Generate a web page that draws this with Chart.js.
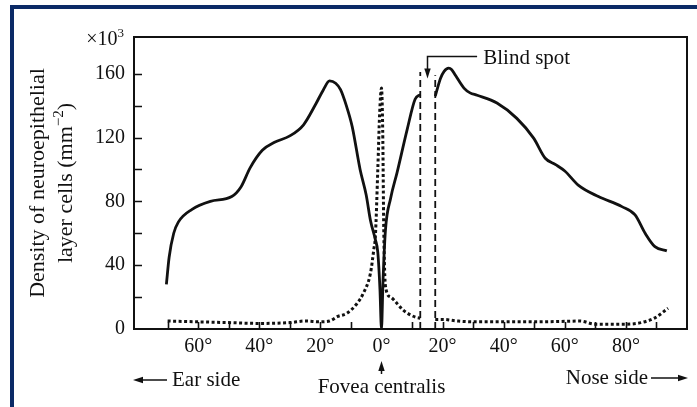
<!DOCTYPE html>
<html>
<head>
<meta charset="utf-8">
<script src="https://cdn.jsdelivr.net/npm/chart.js@4.4.0/dist/chart.umd.min.js"></script>
<style>
  html, body { margin: 0; padding: 0; background: #fff; }
  #wrap { position: relative; width: 697px; height: 407px; overflow: hidden; }
  #wrap canvas { position: absolute; left: 0; top: 0; }
  #edge { position: absolute; left: 10px; top: 5px; right: 0; bottom: 0;
          border-top: 4px solid #0b2a66; border-left: 4px solid #0b2a66; pointer-events: none; }
</style>
</head>
<body>
<div id="wrap">
  <canvas id="retina" width="697" height="407"></canvas>
  <div id="edge"></div>
</div>
<script>
// rods (solid) - null marks the blind spot gap
const rodAngles  = [-70.4, -69.5, -68, -66.5, -62, -56, -49, -46, -43, -39, -35, -30, -25.5, -21.5, -19, -17, -15, -13.4, -11.5, -9.6, -7, -5, -3.6, -2, -1.2, -0.5, 0, 0.5, 1.3, 3, 5.1, 8.4, 11, 12.7,
                    15,
                    17.6, 18.5, 19.3, 20.5, 22, 23, 24.2, 27, 29, 31.3, 37.8, 44.3, 49.8, 53.6, 57, 60, 64.5, 71, 78.7, 83, 86.3, 89.5, 93.4];
const rodDensity = [28, 45, 60, 67, 75, 80, 83, 89, 101, 112, 117, 121, 128, 141, 150, 155.5, 154, 150, 140, 127, 100, 84, 68, 56, 48, 25, 0, 30, 62, 82, 98, 125, 144, 147,
                    null,
                    146, 152, 157, 161.5, 163.5, 162.5, 159, 151, 148, 146.5, 141.6, 132, 119.6, 107, 103, 99, 90, 83, 76.7, 71.5, 60, 51.6, 49];

// cones (dotted)
const coneAngles  = [-70, -60, -50, -40, -30, -25, -20, -17, -14.5, -11.2, -8, -5.9, -3.6, -2.5, -2, -1.2, -0.6, 0, 0.4, 0.75, 1.3, 3, 5.1, 7, 9.5, 11.5, 12.7,
                     15,
                     17.6, 20, 25, 30, 40, 50, 60, 65, 70, 80, 85, 89.5, 93.8];
const coneDensity = [5, 4.5, 4, 3.5, 4, 5, 4.5, 5, 7.7, 10, 16, 22.5, 35, 50, 58, 100, 135, 151, 125, 62, 27, 20, 16, 12, 8.8, 7.2, 6.8,
                     null,
                     6, 6, 5, 4.5, 4.5, 4.5, 4.8, 5, 3, 3, 4, 7, 13];

// blind spot boundaries (dashed)
const blindEdgeAngles = [12.7, 17.6];
const blindEdgeTops   = [161, 159];

const xTickValues = [-60, -40, -20, 0, 20, 40, 60, 80];
const yTickValues = [0, 40, 80, 120, 160];
const xTickMarks  = [-70, -60, -50, -40, -30, -20, -10, 0, 10, 20, 30, 40, 50, 60, 70, 80, 90];
const yTickMarks  = [20, 40, 60, 80, 100, 120, 140, 160];

const ink = '#111';
const serif = '"Liberation Serif", "Times New Roman", serif';

const toPoints = (xs, ys) => xs.map((x, i) => ({ x: x, y: ys[i] }));

const blindPoints = [];
blindEdgeAngles.forEach((a, i) => {
  if (i > 0) blindPoints.push({ x: (blindEdgeAngles[i - 1] + a) / 2, y: null });
  blindPoints.push({ x: a, y: 0 }, { x: a, y: blindEdgeTops[i] });
});

function arrowHead(ctx, x, y, dir) {
  // dir: 'left' | 'right' | 'up' | 'down'
  const L = 10, W = 3.2;
  ctx.beginPath();
  if (dir === 'left')  { ctx.moveTo(x, y); ctx.lineTo(x + L, y - W); ctx.lineTo(x + L, y + W); }
  if (dir === 'right') { ctx.moveTo(x, y); ctx.lineTo(x - L, y - W); ctx.lineTo(x - L, y + W); }
  if (dir === 'up')    { ctx.moveTo(x, y); ctx.lineTo(x - W, y + L); ctx.lineTo(x + W, y + L); }
  if (dir === 'down')  { ctx.moveTo(x, y); ctx.lineTo(x - W, y - L); ctx.lineTo(x + W, y - L); }
  ctx.closePath();
  ctx.fill();
}

const decor = {
  id: 'decor',
  beforeDatasetsDraw(chart) {
    const { ctx, chartArea: a, scales: { x, y } } = chart;
    ctx.save();
    ctx.strokeStyle = ink;
    ctx.lineWidth = 2;
    ctx.strokeRect(a.left, a.top, a.right - a.left, a.bottom - a.top);
    // tick marks point into the plot
    ctx.lineWidth = 1.6;
    ctx.beginPath();
    yTickMarks.forEach(v => {
      const py = Math.round(y.getPixelForValue(v)) + 0.5;
      ctx.moveTo(a.left, py); ctx.lineTo(a.left + 8, py);
    });
    xTickMarks.forEach(v => {
      const px = Math.round(x.getPixelForValue(v)) + 0.5;
      ctx.moveTo(px, a.bottom); ctx.lineTo(px, a.bottom - 7);
    });
    ctx.stroke();
    ctx.restore();
  },
  afterDraw(chart) {
    const { ctx, chartArea: a, scales: { x, y } } = chart;
    ctx.save();
    ctx.fillStyle = ink;
    ctx.strokeStyle = ink;

    // ×10³ multiplier
    ctx.textAlign = 'right';
    ctx.textBaseline = 'alphabetic';
    ctx.font = `13px ${serif}`;
    const w3 = ctx.measureText('3').width;
    ctx.fillText('3', a.left - 10, 37);
    ctx.font = `20px ${serif}`;
    ctx.fillText('×10', a.left - 10 - w3, 45);

    // y axis title, two rotated lines
    ctx.save();
    ctx.translate(38, (a.top + a.bottom) / 2);
    ctx.rotate(-Math.PI / 2);
    ctx.font = `22px ${serif}`;
    ctx.textAlign = 'center';
    ctx.textBaseline = 'middle';
    ctx.fillText('Density of neuroepithelial', 0, 0);
    ctx.textAlign = 'left';
    const p1 = 'layer cells (mm', p2 = '\u22122', p3 = ')';
    const w1 = ctx.measureText(p1).width, w3b = ctx.measureText(p3).width;
    ctx.font = `15px ${serif}`;
    const w2 = ctx.measureText(p2).width;
    const cx = -(w1 + w2 + w3b) / 2;
    ctx.font = `22px ${serif}`;
    ctx.fillText(p1, cx, 28);
    ctx.font = `15px ${serif}`;
    ctx.fillText(p2, cx + w1, 21);
    ctx.font = `22px ${serif}`;
    ctx.fillText(p3, cx + w1 + w2, 28);
    ctx.restore();

    // blind spot pointer
    ctx.lineWidth = 1.5;
    const bx = Math.round(x.getPixelForValue(15)) + 0.5;
    const bTop = Math.round(y.getPixelForValue(171)) + 0.5;
    const bTip = y.getPixelForValue(157);
    const bEnd = x.getPixelForValue(31.3);
    ctx.beginPath();
    ctx.moveTo(bEnd, bTop); ctx.lineTo(bx, bTop); ctx.lineTo(bx, bTip - 6);
    ctx.stroke();
    arrowHead(ctx, bx, bTip, 'down');
    ctx.font = `21px ${serif}`;
    ctx.textAlign = 'left';
    ctx.textBaseline = 'middle';
    ctx.fillText('Blind spot', x.getPixelForValue(33.3), bTop + 2);

    // fovea pointer
    const fx = Math.round(x.getPixelForValue(0)) + 0.5;
    ctx.beginPath();
    ctx.moveTo(fx, a.bottom + 45); ctx.lineTo(fx, a.bottom + 38);
    ctx.stroke();
    arrowHead(ctx, fx, a.bottom + 32, 'up');
    ctx.textAlign = 'center';
    ctx.fillText('Fovea centralis', fx, a.bottom + 58);

    // ear / nose side
    const ey = a.bottom + 51;
    ctx.beginPath();
    ctx.moveTo(a.left + 6, ey); ctx.lineTo(a.left + 33, ey);
    ctx.stroke();
    arrowHead(ctx, a.left - 1, ey, 'left');
    ctx.textAlign = 'left';
    ctx.fillText('Ear side', a.left + 38, ey);

    const ny = a.bottom + 49;
    ctx.beginPath();
    ctx.moveTo(a.right - 36, ny); ctx.lineTo(a.right - 6, ny);
    ctx.stroke();
    arrowHead(ctx, a.right + 1, ny, 'right');
    ctx.textAlign = 'right';
    ctx.fillText('Nose side', a.right - 39, ny);

    ctx.restore();
  }
};

new Chart(document.getElementById('retina'), {
  type: 'line',
  data: {
    datasets: [
      {
        label: 'Rods',
        data: toPoints(rodAngles, rodDensity),
        borderColor: ink,
        borderWidth: 2.8,
        cubicInterpolationMode: 'monotone',
        pointRadius: 0,
        spanGaps: false
      },
      {
        label: 'Cones',
        data: toPoints(coneAngles, coneDensity),
        borderColor: ink,
        borderWidth: 3,
        borderDash: [3, 2.5],
        cubicInterpolationMode: 'monotone',
        pointRadius: 0,
        spanGaps: false
      },
      {
        label: 'Blind spot',
        data: blindPoints,
        borderColor: ink,
        borderWidth: 1.8,
        borderDash: [7, 4],
        tension: 0,
        pointRadius: 0,
        spanGaps: false
      }
    ]
  },
  options: {
    responsive: false,
    animation: false,
    layout: { padding: { left: 0, top: 37, right: 10, bottom: 38 } },
    plugins: { legend: { display: false }, tooltip: { enabled: false } },
    scales: {
      x: {
        type: 'linear',
        min: -81,
        max: 100,
        afterBuildTicks: s => { s.ticks = xTickValues.map(v => ({ value: v })); },
        afterFit: s => { s.height = 40; },
        grid: { display: false, drawTicks: false },
        border: { display: false },
        ticks: {
          color: ink,
          padding: 6,
          maxRotation: 0,
          font: { family: serif, size: 20 },
          callback: v => Math.abs(v) + '°'
        }
      },
      y: {
        min: 0,
        max: 183,
        afterBuildTicks: s => { s.ticks = yTickValues.map(v => ({ value: v })); },
        afterFit: s => { s.width = 134; },
        grid: { display: false, drawTicks: false },
        border: { display: false },
        ticks: {
          color: ink,
          padding: 9,
          font: { family: serif, size: 20 }
        }
      }
    }
  },
  plugins: [decor]
});
</script>
</body>
</html>
